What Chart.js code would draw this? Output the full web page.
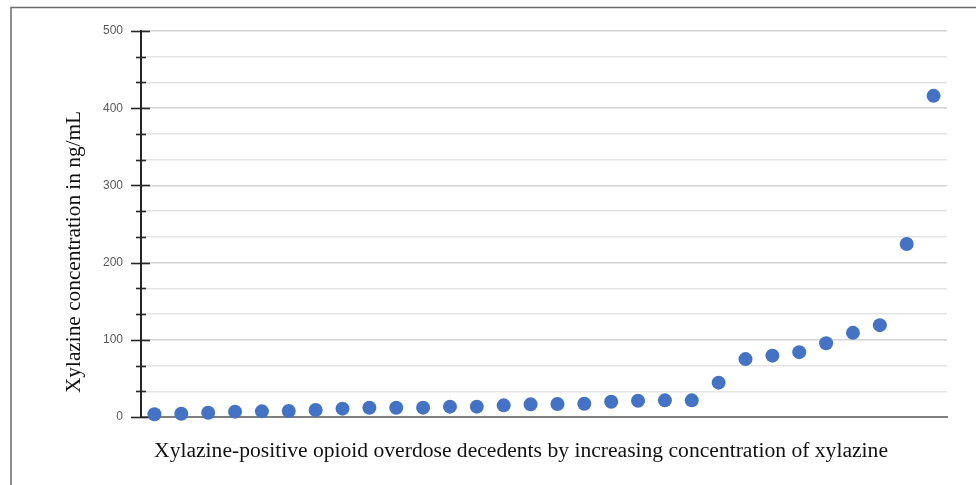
<!DOCTYPE html>
<html><head><meta charset="utf-8">
<script src="https://cdn.jsdelivr.net/npm/chart.js@4.4.1/dist/chart.umd.min.js"></script>
<style>html,body{margin:0;padding:0;background:#fff;overflow:hidden}
#wrap{position:relative;width:976px;height:485px}
</style></head><body><div id="wrap"><canvas id="c" width="976" height="485"></canvas></div>
<script>
// Decedents ranked by increasing xylazine concentration
const decedentRanks = [1,2,3,4,5,6,7,8,9,10,11,12,13,14,15,16,17,18,19,20,21,22,23,24,25,26,27,28,29,30];
// Xylazine concentration (ng/mL)
const xylazineConcentration = [3.5,4.3,5.6,6.9,7.3,7.8,9.1,10.8,12,12,12.1,13.4,13.4,15.1,16.4,16.8,17.2,19.8,21.1,21.6,21.6,44.5,75,79.5,84,95.5,109,119,224,416];
// Labelled y-axis ticks
const yTickLabels = [0,100,200,300,400,500];
const yTitle = 'Xylazine concentration in ng/mL';
const xTitle = 'Xylazine-positive opioid overdose decedents by increasing concentration of xylazine';

// gridlines: each labelled interval split into thirds
const yGridValues = [];
for (let i = 0; i < yTickLabels.length - 1; i++) {
  const a = yTickLabels[i], b = yTickLabels[i+1];
  yGridValues.push(a, a + (b-a)/3, a + 2*(b-a)/3);
}
yGridValues.push(yTickLabels[yTickLabels.length-1]);
const isMajor = v => yTickLabels.some(t => Math.abs(t - v) < 1e-6);

const frame = {
  id: 'frame',
  beforeDraw(chart) {
    const ctx = chart.ctx;
    ctx.save();
    ctx.strokeStyle = '#6b6b6b';
    ctx.lineWidth = 1.5;
    ctx.beginPath();
    ctx.moveTo(11, 485); ctx.lineTo(11, 7.5); ctx.lineTo(976, 7.5);
    ctx.stroke();
    ctx.restore();
  }
};
const tickMarks = {
  id: 'tickMarks',
  beforeDatasetsDraw(chart) {
    const ctx = chart.ctx, ys = chart.scales.y;
    const x0 = chart.chartArea.left;
    ctx.save();
    ctx.strokeStyle = '#262626';
    ctx.lineWidth = 1.6;
    ys.ticks.forEach(t => {
      const y = Math.round(ys.getPixelForValue(t.value)) + 0.5;
      const major = isMajor(t.value);
      ctx.beginPath();
      ctx.moveTo(x0 - (major ? 10 : 5), y);
      ctx.lineTo(x0 + (major ? 9 : 5), y);
      ctx.stroke();
    });
    ctx.restore();
  }
};
const titles = {
  id: 'titles',
  afterDraw(chart) {
    const ctx = chart.ctx;
    ctx.save();
    ctx.fillStyle = '#111';
    ctx.font = '21.6px "Liberation Serif", "Times New Roman", serif';
    ctx.textAlign = 'center';
    ctx.textBaseline = 'middle';
    ctx.fillText(xTitle, 521, 451);
    ctx.font = '21.3px "Liberation Serif", "Times New Roman", serif';
    ctx.translate(74, 252);
    ctx.rotate(-Math.PI/2);
    ctx.fillText(yTitle, 0, 0);
    ctx.restore();
  }
};

new Chart(document.getElementById('c'), {
  type: 'line',
  data: {
    labels: decedentRanks,
    datasets: [{
      data: xylazineConcentration,
      showLine: false,
      pointRadius: 7,
      pointHoverRadius: 7,
      pointBackgroundColor: '#4472C4',
      pointBorderWidth: 0,
      borderColor: '#4472C4',
      clip: false
    }]
  },
  options: {
    responsive: false,
    animation: false,
    devicePixelRatio: 1,
    layout: { padding: { left: 0, right: 29, top: 31, bottom: 68 } },
    plugins: { legend: { display: false }, tooltip: { enabled: false }, title: { display: false } },
    scales: {
      x: {
        type: 'category',
        offset: true,
        grid: { display: false, drawTicks: false },
        ticks: { display: false },
        border: { display: true, color: '#7f7f7f', width: 2 }
      },
      y: {
        min: 0, max: 500,
        afterBuildTicks(scale) { scale.ticks = yGridValues.map(v => ({ value: v })); },
        afterFit(scale) { scale.width = 141; },
        ticks: {
          autoSkip: false,
          padding: 18,
          color: '#595959',
          font: { family: '"Liberation Sans", Arial, sans-serif', size: 12 },
          callback: v => isMajor(v) ? String(Math.round(v)) : ''
        },
        grid: {
          drawTicks: false,
          lineWidth: 1.5,
          color: c => isMajor(c.tick.value) ? '#d4d4d4' : '#e4e4e4'
        },
        border: { display: true, color: '#262626', width: 2 }
      }
    }
  },
  plugins: [frame, tickMarks, titles]
});
</script></body></html>
